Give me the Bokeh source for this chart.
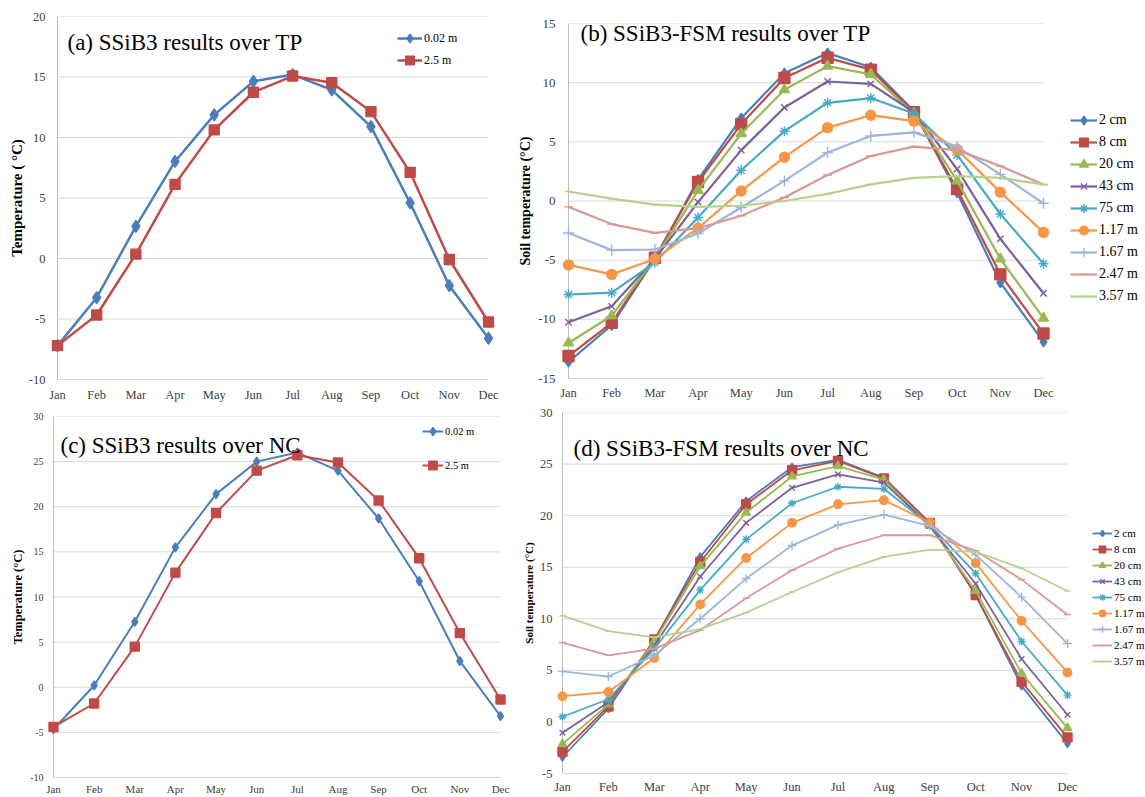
from bokeh.plotting import figure
from bokeh.models import Range1d, FixedTicker, Legend, LegendItem, Label
from bokeh.embed import file_html
from bokeh.resources import INLINE

FONT = "Liberation Serif"
W, H = 1145, 797

months = ["Jan", "Feb", "Mar", "Apr", "May", "Jun", "Jul", "Aug", "Sep", "Oct", "Nov", "Dec"]
x = list(range(1, 13))

# ---- Panel (a): SSiB3 over TP ----
a_names = ["0.02 m", "2.5 m"]
a_002 = [-7.2, -3.24, 2.66, 8.02, 11.87, 14.64, 15.2, 13.93, 10.9, 4.59, -2.25, -6.59]
a_25 = [-7.2, -4.67, 0.36, 6.13, 10.63, 13.74, 15.08, 14.53, 12.14, 7.12, -0.08, -5.25]

# ---- Panel (c): SSiB3 over NC ----
c_002 = [-4.65, 0.2, 7.25, 15.5, 21.4, 25.0, 26.0, 24.0, 18.7, 11.75, 2.9, -3.2]
c_25 = [-4.4, -1.8, 4.5, 12.7, 19.3, 24.0, 25.7, 24.9, 20.7, 14.3, 6.0, -1.35]

# ---- Panel (b): SSiB3-FSM over TP ----
depths = ["2 cm", "8 cm", "20 cm", "43 cm", "75 cm", "1.17 m", "1.67 m", "2.47 m", "3.57 m"]
b_2cm = [-13.6, -10.5, -4.9, 1.8, 7.0, 10.8, 12.5, 11.3, 7.6, 0.7, -6.9, -11.9]
b_8cm = [-13.1, -10.3, -4.8, 1.6, 6.5, 10.4, 12.1, 11.1, 7.5, 1.0, -6.2, -11.2]
b_20cm = [-12.0, -9.7, -4.9, 0.9, 5.7, 9.4, 11.4, 10.7, 7.4, 1.7, -4.9, -9.9]
b_43cm = [-10.25, -8.9, -4.9, -0.1, 4.3, 7.9, 10.1, 9.9, 7.5, 2.7, -3.2, -7.8]
b_75cm = [-7.9, -7.75, -5.2, -1.4, 2.6, 5.9, 8.3, 8.7, 7.4, 3.9, -1.1, -5.3]
b_117m = [-5.4, -6.2, -4.9, -2.3, 0.85, 3.7, 6.2, 7.25, 6.75, 4.35, 0.75, -2.65]
b_167m = [-2.7, -4.15, -4.1, -2.75, -0.55, 1.7, 4.1, 5.5, 5.8, 4.6, 2.25, -0.2]
b_247m = [-0.5, -1.95, -2.7, -2.3, -1.25, 0.3, 2.2, 3.8, 4.6, 4.3, 2.95, 1.4]
b_357m = [0.8, 0.2, -0.3, -0.5, -0.4, 0.0, 0.6, 1.4, 1.95, 2.1, 1.95, 1.4]

# ---- Panel (d): SSiB3-FSM over NC ----
d_2cm = [-3.4, 1.3, 7.9, 16.0, 21.4, 24.7, 25.4, 23.7, 19.3, 12.3, 3.5, -2.1]
d_8cm = [-2.9, 1.5, 8.0, 15.5, 21.1, 24.4, 25.3, 23.6, 19.3, 12.3, 3.9, -1.5]
d_20cm = [-2.15, 1.7, 7.8, 15.1, 20.3, 23.8, 24.8, 23.5, 19.0, 12.7, 4.7, -0.6]
d_43cm = [-1.05, 1.9, 7.4, 14.1, 19.3, 22.7, 24.0, 23.2, 19.0, 13.4, 6.1, 0.7]
d_75cm = [0.5, 2.2, 7.1, 12.8, 17.7, 21.2, 22.8, 22.6, 19.1, 14.4, 7.8, 2.6]
d_117m = [2.5, 2.9, 6.2, 11.4, 15.9, 19.3, 21.1, 21.5, 19.35, 15.4, 9.8, 4.8]
d_167m = [4.9, 4.4, 6.45, 10.0, 13.9, 17.1, 19.1, 20.1, 19.0, 16.2, 12.1, 7.6]
d_247m = [7.7, 6.45, 7.1, 8.9, 12.0, 14.7, 16.8, 18.1, 18.1, 16.6, 13.8, 10.4]
d_357m = [10.3, 8.8, 8.2, 9.0, 10.6, 12.6, 14.5, 16.0, 16.7, 16.5, 14.9, 12.7]

b_series = [b_2cm, b_8cm, b_20cm, b_43cm, b_75cm, b_117m, b_167m, b_247m, b_357m]
d_series = [d_2cm, d_8cm, d_20cm, d_43cm, d_75cm, d_117m, d_167m, d_247m, d_357m]

depth_colors = ["#4A7EBB", "#BE4B48", "#98B954", "#7D60A0", "#46AAC5", "#F79646",
                "#9DB5DB", "#DB9795", "#B5D28F"]
depth_markers = ["diamond", "square", "triangle", "x", "asterisk", "circle", "cross", "dash", "dash"]
BLUE, RED = "#4A7EBB", "#BE4B48"

GRID = "#D9D9D9"
AXIS = "#BFBFBF"
TXT = "#404040"


def make_fig(jan, dec, top, bottom, pad_l, right_edge, ymin, ymax, tick_size, xtick_size,
             ylabel, ylabel_size, ystand, xstand, lab_stand):
    scale = (dec - jan) / 11.0
    fl = jan - pad_l
    x0 = 1 - pad_l / scale
    x1 = 12 + (right_edge - dec) / scale
    p = figure(width=W, height=H, min_border_left=fl, min_border_right=W - right_edge,
               min_border_top=top, min_border_bottom=H - bottom,
               x_range=Range1d(x0, x1), y_range=Range1d(ymin, ymax),
               output_backend="svg", toolbar_location=None, title=None)
    p.outline_line_color = None
    p.background_fill_color = None
    p.border_fill_color = None
    p.xgrid.grid_line_color = None
    p.ygrid.grid_line_color = None
    yt = list(range(ymin, ymax + 1, 5))
    # gridlines and axis lines spanning Jan..Dec only
    p.segment(x0=[1] * len(yt), y0=yt, x1=[12] * len(yt), y1=yt, line_color=GRID, line_width=1)
    p.segment(x0=[1, 1], y0=[ymin, ymin], x1=[1, 12], y1=[ymax, ymin], line_color=AXIS, line_width=1)
    p.xaxis.ticker = FixedTicker(ticks=x)
    p.xaxis.major_label_overrides = {i: m for i, m in zip(x, months)}
    p.yaxis.ticker = FixedTicker(ticks=yt)
    p.yaxis.major_label_overrides = {t: str(t) for t in yt}
    for ax in (p.xaxis[0], p.yaxis[0]):
        ax.axis_line_color = None
        ax.major_tick_line_color = None
        ax.minor_tick_line_color = None
        ax.major_tick_out = 0
        ax.major_tick_in = 0
        ax.minor_tick_out = 0
        ax.major_label_text_font = FONT
        ax.major_label_text_color = TXT
    p.yaxis.major_label_text_font_size = f"{tick_size}px"
    p.xaxis.major_label_text_font_size = f"{xtick_size}px"
    p.yaxis.major_label_standoff = ystand
    p.xaxis.major_label_standoff = xstand
    p.yaxis.axis_label = ylabel
    p.yaxis.axis_label_text_font = FONT
    p.yaxis.axis_label_text_font_style = "bold"
    p.yaxis.axis_label_text_font_size = f"{ylabel_size}px"
    p.yaxis.axis_label_text_color = "black"
    p.yaxis.axis_label_standoff = lab_stand
    return p


def add_series(p, ys, color, marker, size, lw):
    rs = [p.line(x, ys, line_color=color, line_width=lw)]
    if marker:
        rs.append(p.scatter(x, ys, marker=marker, size=size, fill_color=color,
                            line_color=color, line_width=1.4))
    return rs


def add_legend(p, items, loc, glyph_w, item_h, font_size):
    lg = Legend(items=[LegendItem(label=l, renderers=r) for l, r in items], location=loc)
    lg.orientation = "vertical"
    lg.padding = 0
    lg.margin = 0
    lg.spacing = 0
    lg.glyph_width = glyph_w
    lg.glyph_height = item_h
    lg.label_height = item_h
    lg.label_standoff = 2
    lg.border_line_color = None
    lg.background_fill_alpha = 0
    lg.label_text_font = FONT
    lg.label_text_font_size = f"{font_size}px"
    lg.label_text_color = "black"
    p.add_layout(lg)


def add_title(p, tx, ty, text):
    p.add_layout(Label(x=tx, y=ty, text=text, text_font=FONT, text_font_size="23px",
                       text_baseline="middle", text_align="left", text_color="black"))


# Panel a
pa = make_fig(57, 488, 16, 379, 8, 496, -10, 20, 12.5, 12.5, "Temperature ( °C)", 15, 4, 8, 1)
ra1 = add_series(pa, a_002, BLUE, "diamond", 12, 2.5)
ra2 = add_series(pa, a_25, RED, "square", 10, 2.5)
add_legend(pa, [(a_names[0], ra1), (a_names[1], ra2)], (348, 308), 25, 22, 12)
add_title(pa, 1.255, 17.85, "(a)  SSiB3 results over TP")

# Panel b
pb = make_fig(568, 1043, 23, 378, 8, W, -15, 15, 13, 12.5, "Soil temperature (°C)", 14, 5, 7, 2)
b_sizes = [10, 11, 10, 9, 10, 10, 11, 9, 7]
b_items = []
for name, ys, col, mk, sz in zip(depths, b_series, depth_colors, depth_markers, b_sizes):
    b_items.append((name, add_series(pb, ys, col, mk, sz, 2.2)))
add_legend(pb, b_items, (510, 71), 27, 22, 14)
add_title(pb, 1.278, 14.15, "(b)  SSiB3-FSM results over TP")

# Panel c
pc = make_fig(53, 500, 416, 780, 7, 508, -10, 30, 10, 11, "Temperature (°C)", 12.5, 3, 5, 2)
rc1 = add_series(pc, c_002, BLUE, "diamond", 9, 2)
rc2 = add_series(pc, c_25, RED, "square", 9, 2)
add_legend(pc, [(a_names[0], rc1), (a_names[1], rc2)], (376, 295), 21, 34, 10.5)
add_title(pc, 1.172, 26.81, "(c) SSiB3 results over NC")

# Panel d
pd_ = make_fig(562, 1067, 412, 773, 8, W, -5, 30, 12.5, 12.5, "Soil temperature (°C)", 11, 2, 6, 2)
d_sizes = [8, 9, 8.5, 8, 8, 8.5, 9, 7, 6]
d_items = []
for name, ys, col, mk, sz in zip(depths, d_series, depth_colors, depth_markers, d_sizes):
    d_items.append((name, add_series(pd_, ys, col, mk, sz, 1.8)))
add_legend(pd_, d_items, (538, 104), 20, 16, 11)
add_title(pd_, 1.24, 26.5, "(d) SSiB3-FSM results over NC")

TEMPLATE = """
{% block contents %}
<div style="position:relative;width:1145px;height:797px;background:white;">
{% for doc in docs %}
{% for root in doc.roots %}
<div style="position:absolute;left:0px;top:0px;width:1145px;height:797px;"><div id="{{ root.elementid }}" style="display: contents;"></div></div>
{% endfor %}
{% endfor %}
</div>
{% endblock %}
"""

open("out.html", "w").write(file_html([pa, pb, pc, pd_], INLINE, template=TEMPLATE))
